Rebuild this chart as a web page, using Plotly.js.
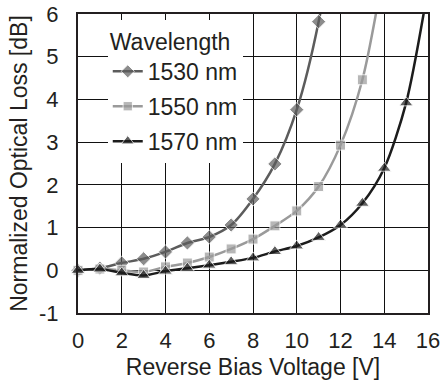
<!DOCTYPE html>
<html>
<head>
<meta charset="utf-8">
<script src="https://cdn.plot.ly/plotly-3.0.1.min.js"></script>
<style>html,body{margin:0;padding:0;background:#fff;}#chart{width:440px;height:388px;}</style>
</head>
<body>
<div id="chart"></div>
<script>
// Data
const voltage1530 = [0,1,2,3,4,5,6,7,8,9,10,11,12];
const loss1530    = [0,0.05,0.17,0.27,0.43,0.64,0.78,1.06,1.67,2.49,3.76,5.82,9.0];
const voltage1550 = [0,1,2,3,4,5,6,7,8,9,10,11,12,13,14];
const loss1550    = [0,0.03,0.0,-0.04,0.08,0.17,0.31,0.50,0.73,1.04,1.39,1.96,2.93,4.46,7.1];
const voltage1570 = [0,1,2,3,4,5,6,7,8,9,10,11,12,13,14,15,16];
const loss1570    = [0,0.03,-0.06,-0.12,-0.02,0.05,0.12,0.20,0.29,0.44,0.57,0.77,1.06,1.57,2.39,3.92,6.6];
const seriesNames = ['1530 nm','1550 nm','1570 nm'];
const xTicks = [0,2,4,6,8,10,12,14,16];
const yTicks = [-1,0,1,2,3,4,5,6];

function sizes(ys, s){ return ys.map(v => (v > 6 ? 0 : s)); }

const font = '"Liberation Sans", Arial, sans-serif';
const txt = '#231f20';
const fs = 23;
const tfs = 22;
const traces = [
  {x: voltage1530, y: loss1530, name: seriesNames[0], legendgroup:'a', mode:'lines+markers',
   line:{color:'#5c5c5c', width:2.5, shape:'spline', smoothing:0.8},
   marker:{symbol:'diamond', size:sizes(loss1530, 11), color:'#5c5c5c'}, cliponaxis:false},
  {x: voltage1550, y: loss1550, name: seriesNames[1], legendgroup:'b', mode:'lines+markers',
   line:{color:'#9a9a9a', width:2.5, shape:'spline', smoothing:0.8},
   marker:{symbol:'square', size:sizes(loss1550, 10), color:'#9a9a9a'}, cliponaxis:false},
  {x: voltage1570, y: loss1570, name: seriesNames[2], legendgroup:'c', mode:'lines+markers',
   line:{color:'#1c1c1c', width:2.5, shape:'spline', smoothing:0.8},
   marker:{symbol:'triangle-up', size:sizes(loss1570, 12), color:'#1c1c1c'}, cliponaxis:false}
];

const layout = {
  width:440, height:388,
  margin:{l:78, r:12, t:14, b:75},
  paper_bgcolor:'#fff', plot_bgcolor:'#fff',
  font:{family:font, size:fs, color:txt},
  showlegend:true,
  legend:{x:0.085, y:0.98, xanchor:'left', yanchor:'top', bgcolor:'#fff', borderwidth:0,
          font:{family:font, size:fs, color:txt},
          title:{text:'Wavelength', font:{family:font, size:fs, color:txt}},
          tracegroupgap:2, itemwidth:30},
  xaxis:{range:[0,16], tickvals:xTicks, ticktext:xTicks.map(String),
         showgrid:true, gridcolor:'#111', gridwidth:1,
         showline:true, linecolor:txt, linewidth:2, mirror:true,
         zeroline:false, ticks:'', ticklabelstandoff:7, ticklabeloverflow:'allow',
         tickfont:{family:font, size:tfs, color:txt},
         title:{text:'Reverse Bias Voltage [V]', font:{family:font, size:fs, color:txt}, standoff:6}},
  yaxis:{range:[-1,6], tickvals:yTicks, ticktext:yTicks.map(String),
         showgrid:true, gridcolor:'#111', gridwidth:1,
         showline:true, linecolor:txt, linewidth:2, mirror:true,
         zeroline:false, ticks:'', ticklabelstandoff:13, ticklabeloverflow:'allow',
         tickfont:{family:font, size:tfs, color:txt},
         title:{text:'Normalized Optical Loss [dB]', font:{family:font, size:fs, color:txt}, standoff:5}}
};

Plotly.newPlot('chart', traces, layout, {displayModeBar:false, staticPlot:true});
</script>
</body>
</html>
